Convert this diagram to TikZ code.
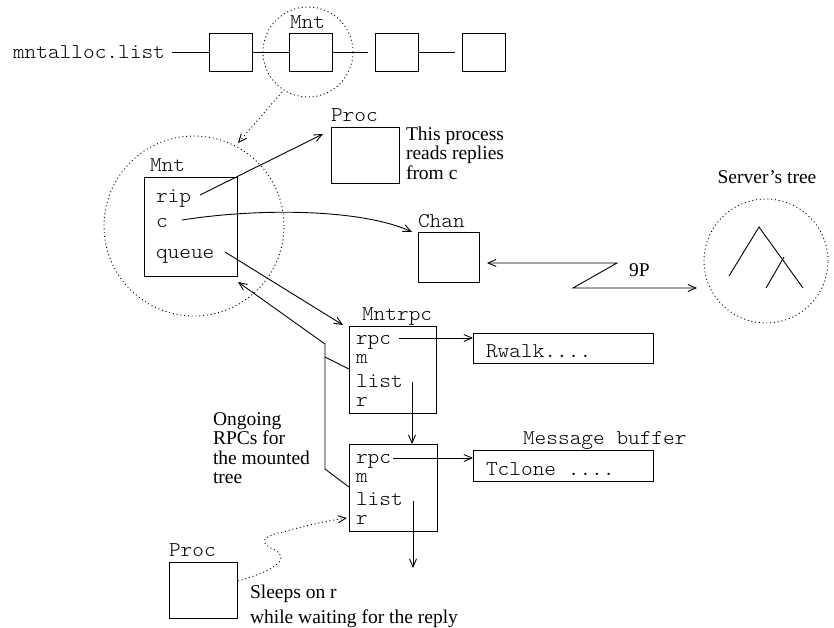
\documentclass[tikz,border=0pt]{standalone}
\usepackage{fontspec}
\setmainfont{Liberation Serif}
\setmonofont{Latin Modern Mono Light}[FakeStretch=1.06]
\usetikzlibrary{arrows.meta}
\begin{document}
\begin{tikzpicture}[x=1pt,y=-1pt,
  line width=0.9pt,
  every node/.style={inner sep=0pt, outer sep=0pt},
  mono/.style={font=\fontsize{21}{21}\selectfont\ttfamily, anchor=base west},
  serif/.style={font=\fontsize{19.5}{20}\selectfont, anchor=base west},
  box/.style={draw, anchor=north west, line width=0.9pt},
  arr/.style={-{Straight Barb[length=8pt,width=7pt]}},
  barbs/.style={{Straight Barb[length=8pt,width=7pt]}-{Straight Barb[length=8pt,width=7pt]}},
  dots/.style={line width=0.9pt, dash pattern=on 1pt off 2.8pt},
  ring/.style={circle, draw, dots},
]
\useasboundingbox (0,0) rectangle (834,627);

% ---- top list ----
\node[mono] (mal) at (13,58) {mntalloc.list};
\node[box, minimum width=43, minimum height=38] (l1) at (209,33) {};
\node[box, minimum width=43, minimum height=38] (l2) at (289,33) {};
\node[box, minimum width=43, minimum height=38] (l3) at (375,33) {};
\node[box, minimum width=43, minimum height=38] (l4) at (462,33) {};
\coordinate (ls) at (172,52);
\coordinate (g1) at (368,52);
\coordinate (g2) at (455,52);
\draw (ls) -- (l1.west);
\draw (l1.east) -- (l2.west);
\draw (l2.east) -- (g1);
\draw (l3.east) -- (g2);
\node[ring, minimum size=90] (topc) at (308,52) {};
\node[mono] (mntlab1) at (290,28) {Mnt};

% ---- big Mnt circle ----
\node[ring, minimum size=180] (bigc) at (194,226) {};
\coordinate (d1) at (282,92);
\coordinate (d2) at (238,143);
\draw[dots, arr] (d1) -- (d2);

\node[box, minimum width=93, minimum height=99] (mnt) at (144,177) {};
\node[mono] (mntlab2) at (150,171) {Mnt};
\node[mono] (rip) at (156,202) {rip};
\node[mono] (cf) at (156,227) {c};
\node[mono] (queue) at (156,258) {queue};

% ---- Proc (top) ----
\node[box, minimum width=68, minimum height=56] (proc1) at (331,127) {};
\node[mono] (proclab1) at (331,121) {Proc};
\node[serif] (t1) at (406,140) {This process};
\node[serif] (t2) at (406,159) {reads replies};
\node[serif] (t3) at (406,179) {from c};
\coordinate (ripS) at (200,195);
\coordinate (ripE) at (323,134);
\draw[arr] (ripS) -- (ripE);

% ---- Chan ----
\node[box, minimum width=61, minimum height=50] (chan) at (418,232) {};
\node[mono] (chanlab) at (418,227) {Chan};
\coordinate (cS) at (182,220);
\coordinate (cE) at (412,232);
\draw[arr] (cS) .. controls (265,207) and (365,210) .. (cE);

% ---- 9P ----
\coordinate (pA) at (487,263);
\coordinate (pB) at (617,263);
\coordinate (pC) at (573,288);
\coordinate (pD) at (697,288);
\draw[barbs] (pA) -- (pB) -- (pC) -- (pD);
\node[serif] (ninep) at (629,276) {9P};

% ---- Server's tree ----
\node[ring, minimum size=124] (srv) at (766,261) {};
\node[serif, anchor=base] (srvlab) at (767,183) {Server's tree};
\coordinate (ta) at (759,227);
\coordinate (tl) at (729,276);
\coordinate (tr) at (803,288);
\coordinate (tb) at (784,257);
\coordinate (tm) at (766,288);
\draw (tl) -- (ta) -- (tr);
\draw (tb) -- (tm);

% ---- Mntrpc 1 ----
\node[box, minimum width=87, minimum height=87] (r1) at (349,326) {};
\node[mono] (mrlab) at (362,320) {Mntrpc};
\node[mono] (r1rpc) at (356,344) {rpc};
\node[mono] (r1m) at (356,363) {m};
\node[mono] (r1list) at (356,387) {list};
\node[mono] (r1r) at (356,406) {r};
\coordinate (qS) at (225,252);
\coordinate (qE) at (343,325);
\draw[arr] (qS) -- (qE);

\node[box, minimum width=180, minimum height=30] (rwalk) at (473,333) {};
\node[mono] (rwalktxt) at (486,357) {Rwalk....};
\coordinate (r1rpcS) at (399,338);
\draw[arr] (r1rpcS) -- (rwalk.west |- r1rpcS);

% ---- Mntrpc 2 ----
\node[box, minimum width=88, minimum height=87] (r2) at (349,444) {};
\node[mono] (r2rpc) at (356,463) {rpc};
\node[mono] (r2m) at (356,482) {m};
\node[mono] (r2list) at (356,505) {list};
\node[mono] (r2r) at (356,524) {r};
\coordinate (l1S) at (412,382);
\draw[arr] (l1S) -- (l1S |- r2.north);

\node[box, minimum width=180, minimum height=31] (tclone) at (473,450) {};
\node[mono] (tclonetxt) at (486,475) {Tclone ....};
\node[mono] (msgbuf) at (523,444) {Message buffer};
\coordinate (r2rpcS) at (393,458);
\draw[arr] (r2rpcS) -- (tclone.west |- r2rpcS);
\coordinate (l2S) at (413,501);
\coordinate (l2E) at (413,568);
\draw[arr] (l2S) -- (l2E);

% ---- back links to Mnt ----
\coordinate (b2) at (349,487);
\coordinate (bk2) at (325,469);
\coordinate (bv) at (325,344);
\coordinate (btip) at (238,282);
\coordinate (b1) at (349,369);
\coordinate (bk1) at (325,357);
\draw[arr] (b2) -- (bk2) -- (bv) -- (btip);
\draw (b1) -- (bk1);

\node[serif] (o1) at (213,425) {Ongoing};
\node[serif] (o2) at (213,444) {RPCs for};
\node[serif] (o3) at (213,464) {the mounted};
\node[serif] (o4) at (213,483) {tree};

% ---- Proc (bottom) ----
\node[box, minimum width=68, minimum height=56] (proc2) at (169,562) {};
\node[mono] (proclab2) at (169,556) {Proc};
\coordinate (wS) at (238,581);
\coordinate (wE) at (347,518);
\draw[dots, arr] (wS) .. controls (270,572) and (292,560) .. (275,550)
  .. controls (258,543) and (262,536) .. (283,532)
  .. controls (300,527) and (325,521) .. (wE);
\node[serif] (s1) at (250,598) {Sleeps on r};
\node[serif] (s2) at (250,623) {while waiting for the reply};
\end{tikzpicture}
\end{document}
